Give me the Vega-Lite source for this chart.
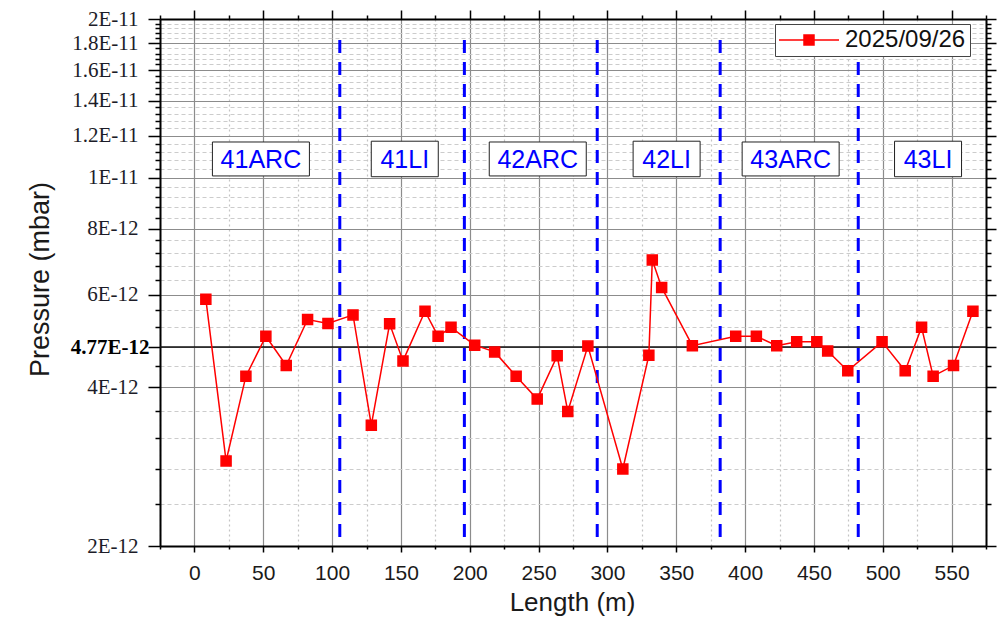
{
  "$schema": "https://vega.github.io/schema/vega-lite/v6.json",
  "width": 826,
  "height": 527,
  "autosize": {"type": "none"},
  "padding": {"left": 160, "top": 19, "right": 15, "bottom": 73},
  "background": "white",
  "config": {"view": {"stroke": null}},
  "datasets": {
    "pressure": [
      {"length": 8.3, "pressure": 5.88e-12, "series": "2025/09/26"},
      {"length": 23.0, "pressure": 2.90e-12, "series": "2025/09/26"},
      {"length": 37.4, "pressure": 4.20e-12, "series": "2025/09/26"},
      {"length": 51.9, "pressure": 5.00e-12, "series": "2025/09/26"},
      {"length": 66.7, "pressure": 4.40e-12, "series": "2025/09/26"},
      {"length": 82.2, "pressure": 5.38e-12, "series": "2025/09/26"},
      {"length": 97.0, "pressure": 5.29e-12, "series": "2025/09/26"},
      {"length": 115.2, "pressure": 5.49e-12, "series": "2025/09/26"},
      {"length": 128.5, "pressure": 3.39e-12, "series": "2025/09/26"},
      {"length": 141.8, "pressure": 5.28e-12, "series": "2025/09/26"},
      {"length": 151.5, "pressure": 4.49e-12, "series": "2025/09/26"},
      {"length": 167.5, "pressure": 5.58e-12, "series": "2025/09/26"},
      {"length": 177.0, "pressure": 5.00e-12, "series": "2025/09/26"},
      {"length": 186.4, "pressure": 5.20e-12, "series": "2025/09/26"},
      {"length": 203.6, "pressure": 4.81e-12, "series": "2025/09/26"},
      {"length": 218.1, "pressure": 4.67e-12, "series": "2025/09/26"},
      {"length": 233.7, "pressure": 4.20e-12, "series": "2025/09/26"},
      {"length": 249.0, "pressure": 3.80e-12, "series": "2025/09/26"},
      {"length": 263.5, "pressure": 4.59e-12, "series": "2025/09/26"},
      {"length": 271.2, "pressure": 3.60e-12, "series": "2025/09/26"},
      {"length": 285.8, "pressure": 4.79e-12, "series": "2025/09/26"},
      {"length": 311.2, "pressure": 2.80e-12, "series": "2025/09/26"},
      {"length": 330.1, "pressure": 4.60e-12, "series": "2025/09/26"},
      {"length": 332.6, "pressure": 6.98e-12, "series": "2025/09/26"},
      {"length": 339.4, "pressure": 6.19e-12, "series": "2025/09/26"},
      {"length": 361.7, "pressure": 4.80e-12, "series": "2025/09/26"},
      {"length": 393.2, "pressure": 5.00e-12, "series": "2025/09/26"},
      {"length": 408.2, "pressure": 5.00e-12, "series": "2025/09/26"},
      {"length": 423.0, "pressure": 4.80e-12, "series": "2025/09/26"},
      {"length": 437.5, "pressure": 4.88e-12, "series": "2025/09/26"},
      {"length": 452.1, "pressure": 4.88e-12, "series": "2025/09/26"},
      {"length": 460.0, "pressure": 4.69e-12, "series": "2025/09/26"},
      {"length": 474.6, "pressure": 4.30e-12, "series": "2025/09/26"},
      {"length": 499.5, "pressure": 4.88e-12, "series": "2025/09/26"},
      {"length": 516.3, "pressure": 4.30e-12, "series": "2025/09/26"},
      {"length": 528.2, "pressure": 5.20e-12, "series": "2025/09/26"},
      {"length": 536.6, "pressure": 4.20e-12, "series": "2025/09/26"},
      {"length": 551.4, "pressure": 4.40e-12, "series": "2025/09/26"},
      {"length": 565.5, "pressure": 5.58e-12, "series": "2025/09/26"}
    ],
    "sections": [
      {"label": "41ARC", "center": 48.3},
      {"label": "41LI", "center": 152.8},
      {"label": "42ARC", "center": 249.4},
      {"label": "42LI", "center": 343.0},
      {"label": "43ARC", "center": 433.1},
      {"label": "43LI", "center": 532.9}
    ],
    "boundaries": [
      {"length": 105.6, "top": 1.825e-11},
      {"length": 196.1, "top": 1.825e-11},
      {"length": 292.6, "top": 1.825e-11},
      {"length": 381.9, "top": 1.825e-11},
      {"length": 482.2, "top": 1.657e-11}
    ],
    "reference": [{"pressure": 4.77e-12}]
  },
  "layer": [
    {
      "data": {"name": "pressure"},
      "mark": {"type": "point", "opacity": 0},
      "encoding": {
        "x": {
          "field": "length", "type": "quantitative",
          "scale": {"domain": [-25, 575], "nice": false, "zero": false},
          "axis": {
            "orient": "top",
            "values": [-25,0,25,50,75,100,125,150,175,200,225,250,275,300,325,350,375,400,425,450,475,500,525,550,575],
            "labels": false, "title": null, "grid": false,
            "tickSize": {"condition": {"test": "datum.value % 50 == 0", "value": 9}, "value": 4},
            "tickColor": "black", "tickWidth": 1.5,
            "domainColor": "black", "domainWidth": 2
          }
        },
        "y": {
          "field": "pressure", "type": "quantitative",
          "scale": {"type": "log", "domain": [2e-12, 2e-11], "nice": false},
          "axis": {
            "orient": "right",
            "values": [2e-12, 2.4e-12, 2.8e-12, 3.2e-12, 3.6e-12, 4e-12, 4.4e-12, 4.77e-12, 5.2e-12, 5.6e-12, 6e-12, 6.4e-12, 6.8e-12, 7.2e-12, 7.6e-12, 8e-12, 8.4e-12, 8.8e-12, 9.2e-12, 9.6e-12, 1e-11, 1.04e-11, 1.08e-11, 1.12e-11, 1.16e-11, 1.2e-11, 1.24e-11, 1.28e-11, 1.32e-11, 1.36e-11, 1.4e-11, 1.44e-11, 1.48e-11, 1.52e-11, 1.56e-11, 1.6e-11, 1.64e-11, 1.68e-11, 1.72e-11, 1.76e-11, 1.8e-11, 1.84e-11, 1.88e-11, 1.92e-11, 1.96e-11, 2e-11],
            "labels": false, "title": null, "grid": false,
            "tickSize": {"condition": {"test": "indexof([2e-12,4e-12,4.77e-12,6e-12,8e-12,1e-11,1.2e-11,1.4e-11,1.6e-11,1.8e-11,2e-11], datum.value) >= 0", "value": 10}, "value": 5},
            "tickColor": "black", "tickWidth": 1.5,
            "domainColor": "black", "domainWidth": 2
          }
        }
      }
    },
    {
      "data": {"name": "reference"},
      "mark": {"type": "rule", "color": "#111111", "strokeWidth": 1.6},
      "encoding": {"y": {"field": "pressure", "type": "quantitative", "axis": null}}
    },
    {
      "data": {"name": "boundaries"},
      "mark": {"type": "rule", "color": "#0000ff", "strokeWidth": 3, "strokeDash": [13, 9]},
      "encoding": {
        "x": {"field": "length", "type": "quantitative", "axis": null},
        "y": {"field": "top", "type": "quantitative", "axis": null},
        "y2": {"datum": 2e-12}
      }
    },
    {
      "data": {"name": "sections"},
      "transform": [{"filter": "indexof(datum.label, 'ARC') >= 0"}],
      "mark": {"type": "point", "shape": "M-1,-0.35H1V0.35H-1Z", "size": 9409, "filled": true, "fill": "white", "stroke": "#222222", "strokeWidth": 1, "opacity": 1},
      "encoding": {
        "x": {"field": "center", "type": "quantitative", "axis": null},
        "y": {"datum": 1.085e-11, "type": "quantitative", "axis": null}
      }
    },
    {
      "data": {"name": "sections"},
      "transform": [{"filter": "indexof(datum.label, 'LI') >= 0"}],
      "mark": {"type": "point", "shape": "M-1,-0.53H1V0.53H-1Z", "size": 4489, "filled": true, "fill": "white", "stroke": "#222222", "strokeWidth": 1, "opacity": 1},
      "encoding": {
        "x": {"field": "center", "type": "quantitative", "axis": null},
        "y": {"datum": 1.085e-11, "type": "quantitative", "axis": null}
      }
    },
    {
      "data": {"name": "sections"},
      "mark": {"type": "text", "font": "Liberation Sans", "fontSize": 25, "color": "#0000ff", "align": "center", "baseline": "middle", "dy": 1},
      "encoding": {
        "x": {"field": "center", "type": "quantitative", "axis": null},
        "y": {"datum": 1.085e-11, "type": "quantitative", "axis": null},
        "text": {"field": "label"}
      }
    },
    {
      "data": {"name": "pressure"},
      "mark": {"type": "line", "color": "#ff0000", "strokeWidth": 1.5},
      "encoding": {
        "x": {
          "field": "length", "type": "quantitative",
          "scale": {"domain": [-25, 575], "nice": false, "zero": false},
          "axis": {
            "orient": "bottom",
            "values": [-25,0,25,50,75,100,125,150,175,200,225,250,275,300,325,350,375,400,425,450,475,500,525,550,575],
            "labelExpr": "datum.value % 50 == 0 ? format(datum.value, 'd') : ''",
            "labelFont": "Liberation Sans", "labelFontSize": 21, "labelColor": "#1a1a1a",
            "labelPadding": 10, "labelFlush": false, "labelOverlap": false, "labelBound": false,
            "tickSize": {"condition": {"test": "datum.value % 50 == 0", "value": 6}, "value": 3},
            "tickColor": "black", "tickWidth": 1.5,
            "domainColor": "black", "domainWidth": 2,
            "grid": true,
            "gridColor": {"condition": {"test": "datum.value % 50 == 0", "value": "#8c8c8c"}, "value": "#c4c4c4"},
            "gridDash": {"condition": {"test": "datum.value % 50 == 0", "value": []}, "value": [2, 3]},
            "gridWidth": 1.2,
            "title": "Length (m)", "titleFont": "Liberation Sans", "titleFontSize": 26, "titleFontWeight": "normal", "titleColor": "#1a1a1a",
            "titleX": 412, "titleY": 64, "titleAlign": "center", "titleBaseline": "alphabetic"
          }
        },
        "y": {
          "field": "pressure", "type": "quantitative",
          "scale": {"type": "log", "domain": [2e-12, 2e-11], "nice": false},
          "axis": {
            "orient": "left",
            "values": [2e-12, 2.4e-12, 2.8e-12, 3.2e-12, 3.6e-12, 4e-12, 4.4e-12, 4.77e-12, 5.2e-12, 5.6e-12, 6e-12, 6.4e-12, 6.8e-12, 7.2e-12, 7.6e-12, 8e-12, 8.4e-12, 8.8e-12, 9.2e-12, 9.6e-12, 1e-11, 1.04e-11, 1.08e-11, 1.12e-11, 1.16e-11, 1.2e-11, 1.24e-11, 1.28e-11, 1.32e-11, 1.36e-11, 1.4e-11, 1.44e-11, 1.48e-11, 1.52e-11, 1.56e-11, 1.6e-11, 1.64e-11, 1.68e-11, 1.72e-11, 1.76e-11, 1.8e-11, 1.84e-11, 1.88e-11, 1.92e-11, 1.96e-11, 2e-11],
            "labelExpr": "indexof([2e-12,4e-12,4.77e-12,6e-12,8e-12,1e-11,1.2e-11,1.4e-11,1.6e-11,1.8e-11,2e-11], datum.value) >= 0 ? (datum.value > 9.99e-12 ? format(datum.value * 1e11, '~g') + 'E-11' : format(datum.value * 1e12, '~g') + 'E-12') : ''",
            "labelFont": "Liberation Serif", "labelFontSize": 21,
            "labelColor": {"condition": {"test": "datum.value == 4.77e-12", "value": "#000000"}, "value": "#1c1c28"},
            "labelFontWeight": {"condition": {"test": "datum.value == 4.77e-12", "value": "bold"}, "value": "normal"},
            "labelPadding": {"condition": {"test": "datum.value == 4.77e-12", "value": -1}, "value": 10},
            "labelOverlap": false, "labelBound": false, "labelFlush": false,
            "tickSize": {"condition": {"test": "indexof([2e-12,4e-12,4.77e-12,6e-12,8e-12,1e-11,1.2e-11,1.4e-11,1.6e-11,1.8e-11,2e-11], datum.value) >= 0", "value": 12}, "value": 5},
            "tickColor": "black", "tickWidth": 1.5,
            "domainColor": "black", "domainWidth": 2,
            "grid": true,
            "gridColor": {"condition": {"test": "indexof([2e-12,4e-12,4.77e-12,6e-12,8e-12,1e-11,1.2e-11,1.4e-11,1.6e-11,1.8e-11,2e-11], datum.value) >= 0", "value": "#8c8c8c"}, "value": "#cccccc"},
            "gridDash": {"condition": {"test": "indexof([2e-12,4e-12,4.77e-12,6e-12,8e-12,1e-11,1.2e-11,1.4e-11,1.6e-11,1.8e-11,2e-11], datum.value) >= 0", "value": []}, "value": [4, 3]},
            "gridWidth": 1.2,
            "title": "Pressure (mbar)", "titleFont": "Liberation Sans", "titleFontSize": 27, "titleFontWeight": "normal", "titleColor": "#1a1a1a",
            "titleAngle": 270, "titleX": -112, "titleY": 260, "titleAlign": "center", "titleBaseline": "alphabetic"
          }
        }
      }
    },
    {
      "data": {"name": "pressure"},
      "mark": {"type": "point", "shape": "square", "size": 100, "filled": false, "fill": "#ff0000", "strokeWidth": 1.5, "opacity": 1},
      "encoding": {
        "x": {"field": "length", "type": "quantitative", "axis": null},
        "y": {"field": "pressure", "type": "quantitative", "axis": null},
        "color": {
          "field": "series", "type": "nominal",
          "scale": {"range": ["#ff0000"]},
          "legend": {
            "title": null, "orient": "none", "legendX": 615, "legendY": 5,
            "symbolType": "M-3,0H3M-0.5,-0.5H0.5V0.5H-0.5Z", "symbolSize": 400, "symbolOffset": 18,
            "symbolStrokeWidth": 1.5, "symbolStrokeColor": "#ff0000", "symbolFillColor": "#ff0000",
            "labelFont": "Liberation Sans", "labelFontSize": 24, "labelColor": "#111111", "labelOffset": 24, "labelLimit": 400,
            "padding": 4, "fillColor": "white", "strokeColor": "#444444",
            "encode": {
              "symbols": {
                "shape": {"value": "M-3,0H3M-0.5,-0.5H0.5V0.5H-0.5Z"},
                "size": {"value": 400},
                "fill": {"value": "#ff0000"},
                "stroke": {"value": "#ff0000"},
                "strokeWidth": {"value": 1.5},
                "opacity": {"value": 1}
              }
            }
          }
        }
      }
    }
  ],
  "resolve": {"axis": {"x": "independent", "y": "independent"}}
}
